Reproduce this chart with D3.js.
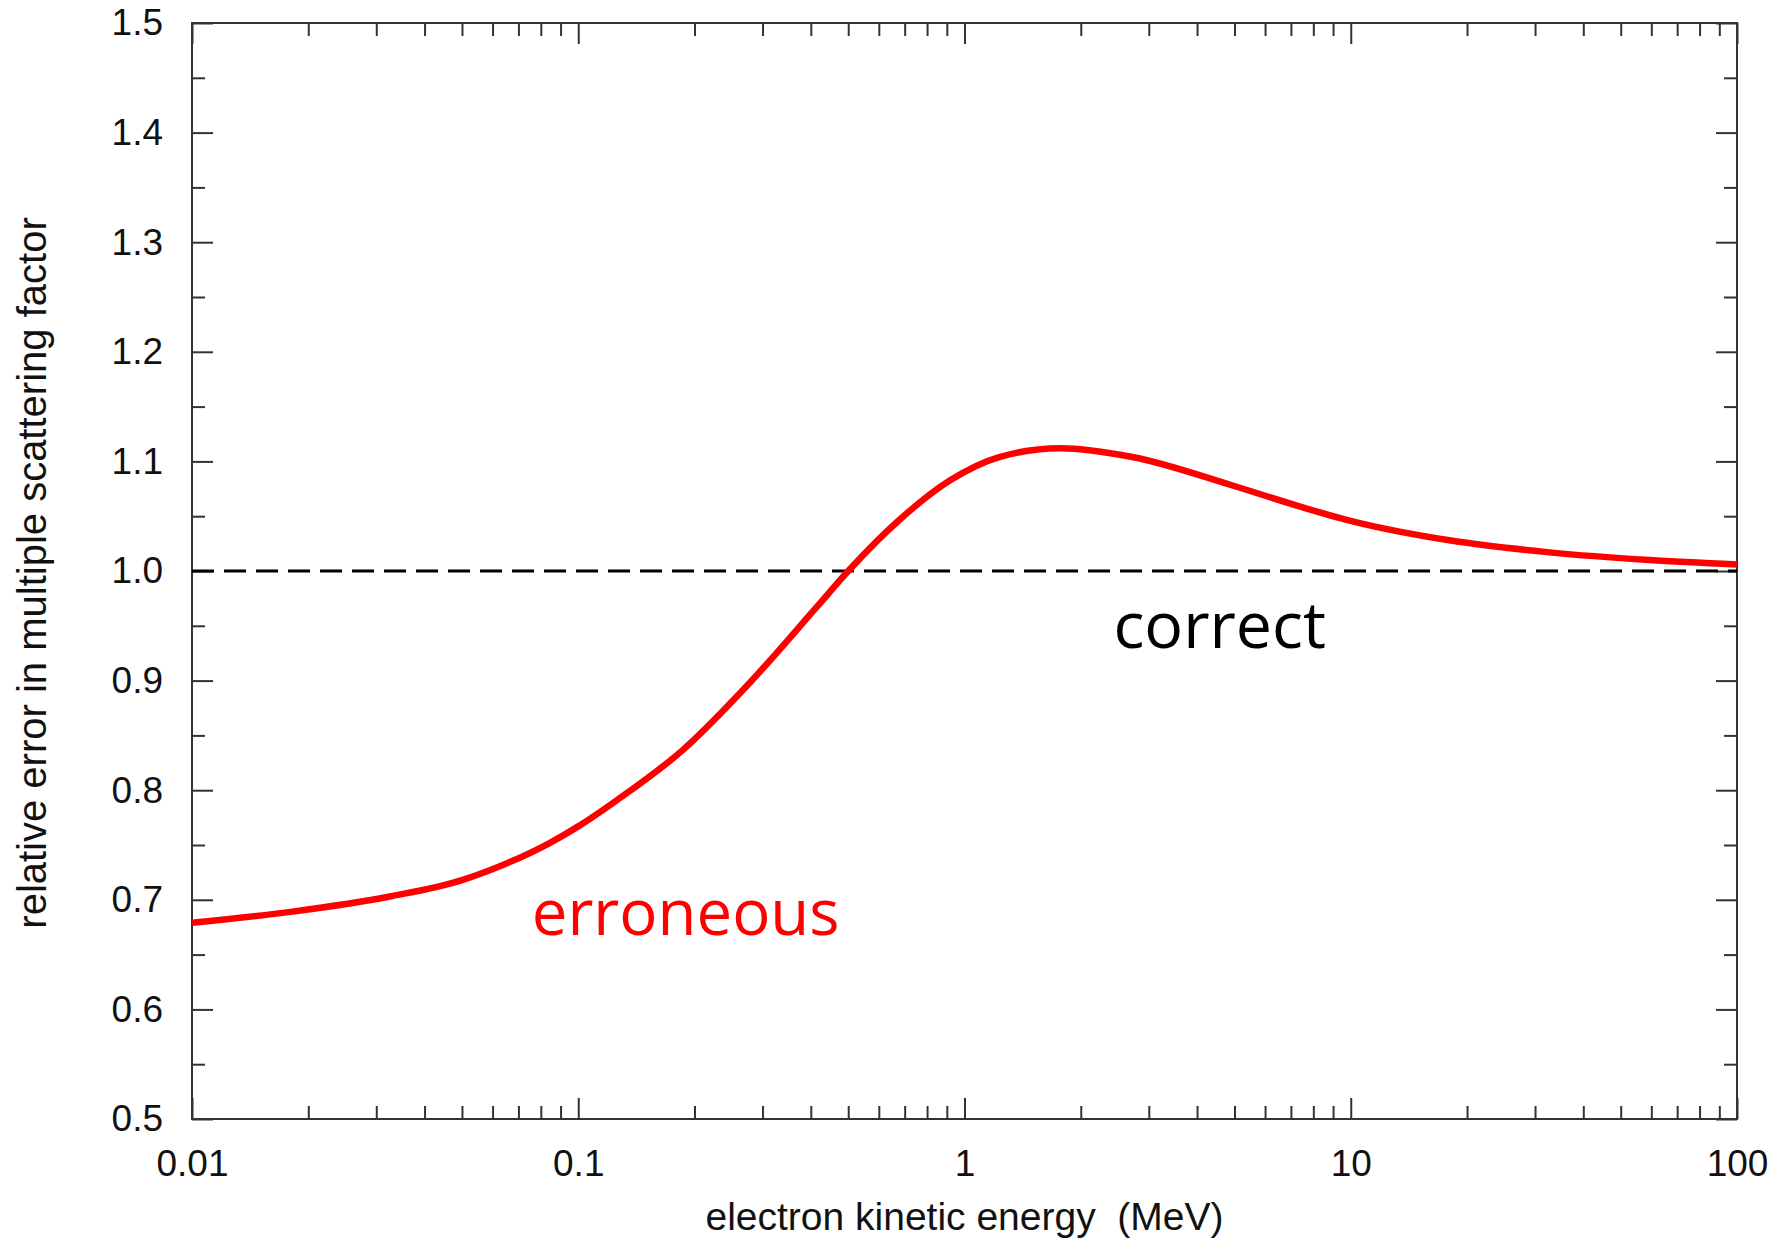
<!DOCTYPE html>
<html>

<head>
    <title>multiple scattering factor error</title>
    <script src="https://d3js.org/d3.v7.min.js"></script>
    <style>
        body { margin: 0; background: #fff; }
        .axis text { font-family: "Liberation Sans", Arial, sans-serif; font-size: 37px; fill: #111; }
        .axis path { display: none; }
        .axis line { stroke: #333; stroke-width: 2; }
    </style>
</head>

<body>
    <svg width="1775" height="1255" id="mainsvg"></svg>
    <script>
        // curve: electron energy (MeV) vs relative error
        const energy = [0.01, 0.018, 0.0325, 0.05, 0.059, 0.0845, 0.1, 0.126, 0.187, 0.278, 0.414, 0.5,
            0.68, 0.92, 1.23, 1.77, 2.72, 4.94, 7.36, 9.93, 18, 32.7, 59.3, 100];
        const relError = [0.679, 0.689, 0.703, 0.718, 0.727, 0.752, 0.767, 0.791, 0.837, 0.898, 0.967, 1.000,
            1.047, 1.083, 1.104, 1.112, 1.104, 1.078, 1.059, 1.046, 1.028, 1.017, 1.010, 1.006];

        const xTicks = [0.01, 0.1, 1, 10, 100];
        const xTickLabels = ['0.01', '0.1', '1', '10', '100'];
        const yTicks = [0.5, 0.6, 0.7, 0.8, 0.9, 1.0, 1.1, 1.2, 1.3, 1.4, 1.5];
        const yTickLabels = ['0.5', '0.6', '0.7', '0.8', '0.9', '1.0', '1.1', '1.2', '1.3', '1.4', '1.5'];
        const referenceLevel = 1.0;

        const svg = d3.select('#mainsvg');
        const margin = { top: 23, right: 38, bottom: 136, left: 192 };
        const innerWidth = +svg.attr('width') - margin.left - margin.right;
        const innerHeight = +svg.attr('height') - margin.top - margin.bottom;
        const g = svg.append('g').attr('transform', `translate(${margin.left},${margin.top})`);

        const x = d3.scaleLog().domain([0.01, 100]).range([0, innerWidth]);
        const y = d3.scaleLinear().domain([0.5, 1.5]).range([innerHeight, 0]);

        // minor ticks 2..9 per decade, half steps on y
        let xMinor = [];
        for (let i = 0; i < xTicks.length - 1; i++)
            for (let k = 2; k <= 9; k++) xMinor.push(xTicks[i] * k);
        let yMinor = [];
        for (let i = 0; i < yTicks.length - 1; i++) yMinor.push((yTicks[i] + yTicks[i + 1]) / 2);

        const major = 21, minor = 13;
        const noText = sel => sel.selectAll('text').remove();

        g.append('g').attr('class', 'axis').attr('transform', `translate(0,${innerHeight})`)
            .call(d3.axisBottom(x).tickValues(xTicks).tickSize(-major).tickPadding(31)
                .tickFormat((d, i) => xTickLabels[i]));
        g.append('g').attr('class', 'axis').attr('transform', `translate(0,${innerHeight})`)
            .call(d3.axisBottom(x).tickValues(xMinor).tickSize(-minor)).call(noText);
        g.append('g').attr('class', 'axis')
            .call(d3.axisTop(x).tickValues(xTicks).tickSize(-major)).call(noText);
        g.append('g').attr('class', 'axis')
            .call(d3.axisTop(x).tickValues(xMinor).tickSize(-minor)).call(noText);

        g.append('g').attr('class', 'axis')
            .call(d3.axisLeft(y).tickValues(yTicks).tickSize(-major).tickPadding(29)
                .tickFormat((d, i) => yTickLabels[i]));
        g.append('g').attr('class', 'axis')
            .call(d3.axisLeft(y).tickValues(yMinor).tickSize(-minor)).call(noText);
        g.append('g').attr('class', 'axis').attr('transform', `translate(${innerWidth},0)`)
            .call(d3.axisRight(y).tickValues(yTicks).tickSize(-major)).call(noText);
        g.append('g').attr('class', 'axis').attr('transform', `translate(${innerWidth},0)`)
            .call(d3.axisRight(y).tickValues(yMinor).tickSize(-minor)).call(noText);

        // frame
        g.append('rect')
            .attr('width', innerWidth).attr('height', innerHeight)
            .attr('fill', 'none').attr('stroke', '#333').attr('stroke-width', 2);

        // dashed "correct" level
        g.append('line')
            .attr('x1', x(0.01)).attr('x2', x(100))
            .attr('y1', y(referenceLevel)).attr('y2', y(referenceLevel))
            .attr('stroke', 'black').attr('stroke-width', 3)
            .attr('stroke-dasharray', '22,10');

        const pts = energy.map((e, i) => [e, relError[i]]);
        const line = d3.line().x(d => x(d[0])).y(d => y(d[1])).curve(d3.curveMonotoneX);
        g.append('path').datum(pts)
            .attr('d', line)
            .attr('fill', 'none').attr('stroke', '#ff0000').attr('stroke-width', 6.5);

        // annotations
        g.append('text')
            .attr('x', x(2.43)).attr('y', y(0.9295))
            .attr('font-family', '"Open Sans", sans-serif').attr('font-size', 64.5)
            .attr('fill', 'black').text('correct');
        g.append('text')
            .attr('x', x(0.0758)).attr('y', y(0.6675))
            .attr('font-family', '"Open Sans", sans-serif').attr('font-size', 63.5)
            .attr('fill', '#ff0000').text('erroneous');

        // axis titles
        svg.append('text')
            .attr('x', margin.left + innerWidth / 2).attr('y', 1230)
            .attr('text-anchor', 'middle')
            .style('white-space', 'pre')
            .attr('font-family', '"Liberation Sans", Arial, sans-serif').attr('font-size', 39)
            .attr('fill', '#111')
            .text('electron kinetic energy  (MeV)');
        svg.append('text')
            .attr('transform', `translate(46,${margin.top + innerHeight / 2 + 2}) rotate(-90)`)
            .attr('text-anchor', 'middle')
            .attr('font-family', '"Liberation Sans", Arial, sans-serif').attr('font-size', 40)
            .attr('fill', '#111')
            .text('relative error in multiple scattering factor');
    </script>
</body>

</html>
